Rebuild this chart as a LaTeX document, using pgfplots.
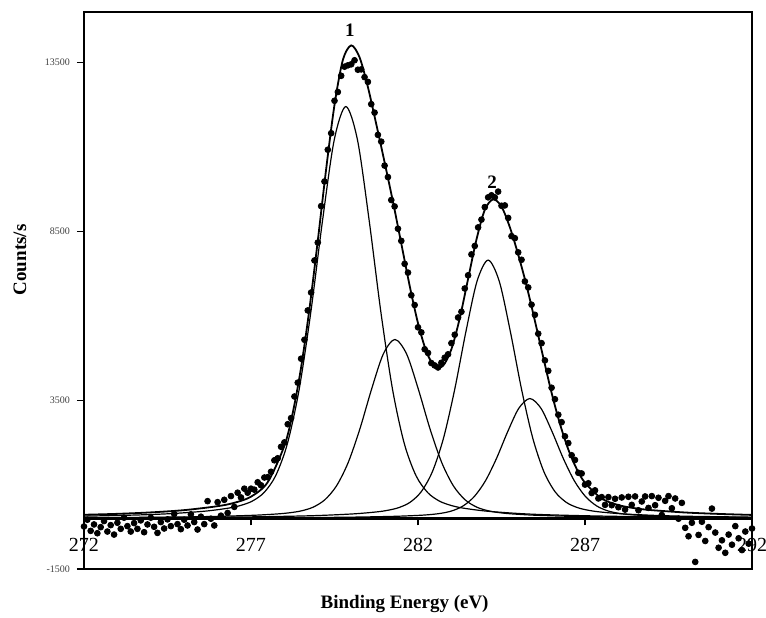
\documentclass[border=0pt]{standalone}
\usepackage{fontspec}
\setmainfont{Liberation Serif}
\usepackage{pgfplots}
\pgfplotsset{compat=1.18}
\begin{document}
\begin{tikzpicture}
\path[use as bounding box] (-42pt,-24pt) rectangle (341pt,284.5pt);
\begin{axis}[
  at={(0pt,0pt)}, anchor=south west,
  scale only axis, width=334pt, height=278.5pt,
  xmin=272, xmax=292, ymin=-1500, ymax=15000,
  axis x line=middle, axis y line=left,
  x axis line style={-, line width=1.6pt},
  y axis line style={-, line width=1pt},
  hide obscured x ticks=false, hide obscured y ticks=false,
  xtick={272,277,282,287,292},
  ytick={-1500,3500,8500,13500},
  xtick align=outside, ytick align=outside,
  major tick length=3.5pt,
  tick style={black, line width=0.6pt},
  /pgf/number format/assume math mode=true,
  /pgf/number format/1000 sep={},
  scaled y ticks=false,
  xticklabel style={font=\fontsize{10}{12}\selectfont, yshift=-3pt},
  yticklabel style={font=\fontsize{5}{6}\selectfont, text=black!75},
  xlabel={\textbf{Binding Energy (eV)}},
  ylabel={\textbf{Counts/s}},
  xlabel style={at={(axis description cs:0.48,-0.063)}, anchor=center, font=\fontsize{9.5}{11}\selectfont},
  ylabel style={at={(axis description cs:-0.096,0.555)}, anchor=center, font=\fontsize{9.5}{11}\selectfont},
  clip=false,
]
% measured counts
\addplot[only marks, mark=*, mark size=1.45pt, black] coordinates {
(272.0,-240)(272.1,-40)(272.2,-370)(272.3,-180)(272.4,-440)(272.5,-260)(272.6,-80)(272.7,-390)(272.8,-200)(272.9,-480)
(273.0,-130)(273.1,-310)(273.2,20)(273.3,-230)(273.4,-390)(273.5,-140)(273.6,-310)(273.7,-60)(273.8,-410)(273.9,-180)
(274.0,20)(274.1,-250)(274.2,-430)(274.3,-110)(274.4,-300)(274.5,-30)(274.6,-230)(274.7,130)(274.8,-170)(274.9,-320)
(275.0,-40)(275.1,-210)(275.2,120)(275.3,-110)(275.4,-330)(275.5,50)(275.6,-170)(275.7,510)(275.8,-10)(275.9,-210)
(276.0,480)(276.1,80)(276.2,550)(276.3,160)(276.4,660)(276.5,340)(276.6,760)(276.7,620)(276.8,880)(276.9,760)
(277.0,880)(277.1,850)(277.2,1070)(277.3,980)(277.4,1210)(277.5,1220)(277.6,1380)(277.7,1720)(277.8,1780)(277.9,2120)
(278.0,2250)(278.1,2790)(278.2,2970)(278.3,3610)(278.4,4020)(278.5,4730)(278.6,5290)(278.7,6160)(278.8,6690)(278.9,7640)
(279.0,8170)(279.1,9250)(279.2,9980)(279.3,10920)(279.4,11410)(279.5,12370)(279.6,12630)(279.7,13110)(279.8,13380)(279.9,13420)
(280.0,13450)(280.1,13570)(280.2,13290)(280.3,13300)(280.4,13070)(280.5,12930)(280.6,12270)(280.7,12020)(280.8,11360)(280.9,11160)
(281.0,10450)(281.1,10110)(281.2,9430)(281.3,9240)(281.4,8580)(281.5,8220)(281.6,7540)(281.7,7280)(281.8,6610)(281.9,6320)
(282.0,5660)(282.1,5510)(282.2,5010)(282.3,4900)(282.4,4600)(282.5,4530)(282.6,4470)(282.7,4610)(282.8,4760)(282.9,4860)
(283.0,5190)(283.1,5440)(283.2,5950)(283.3,6120)(283.4,6810)(283.5,7200)(283.6,7820)(283.7,8070)(283.8,8620)(283.9,8850)
(284.0,9220)(284.1,9510)(284.2,9570)(284.3,9510)(284.4,9680)(284.5,9260)(284.6,9270)(284.7,8900)(284.8,8360)(284.9,8300)
(285.0,7880)(285.1,7660)(285.2,7020)(285.3,6840)(285.4,6330)(285.5,6030)(285.6,5470)(285.7,5190)(285.8,4680)(285.9,4370)
(286.0,3870)(286.1,3530)(286.2,3070)(286.3,2850)(286.4,2430)(286.5,2230)(286.6,1870)(286.7,1730)(286.8,1350)(286.9,1330)
(287.0,1000)(287.1,1040)(287.2,750)(287.3,830)(287.4,590)(287.5,630)(287.6,400)(287.7,630)(287.8,390)(287.9,580)
(288.0,330)(288.1,620)(288.2,260)(288.3,640)(288.4,400)(288.5,650)(288.6,240)(288.7,500)(288.8,650)(288.9,310)
(289.0,660)(289.1,390)(289.2,610)(289.3,100)(289.4,520)(289.5,660)(289.6,300)(289.7,590)(289.8,-10)(289.9,460)
(290.0,-280)(290.1,-530)(290.2,-130)(290.3,-1290)(290.4,-490)(290.5,-100)(290.6,-670)(290.7,-260)(290.8,290)(290.9,-420)
(291.0,-870)(291.1,-650)(291.2,-1020)(291.3,-480)(291.4,-780)(291.5,-230)(291.6,-590)(291.7,-940)(291.8,-390)(291.9,-750)
(292.0,-300)
};
% component 1 (main)
\addplot[black, line width=0.6pt, smooth] coordinates {
(272,65)(273.54,99)(274.59,140)(275.64,215)(276.34,306)(276.69,383)(277.04,512)(277.39,764)(277.74,1266)(278.09,2214)(278.44,3808)(278.79,6100)(279.14,8810)(279.49,11201)(279.84,12200)(280.19,11201)(280.54,8810)(280.89,6100)(281.24,3808)(281.59,2214)(281.94,1266)(282.29,764)(282.64,512)(282.99,383)(283.34,306)(284.04,215)(285.09,140)(286.14,99)(288.24,56)(292,27)
};
% component 1 (shoulder)
\addplot[black, line width=0.6pt, smooth] coordinates {
(272,20)(272.91,24)(275.01,43)(276.06,61)(277.11,93)(277.81,133)(278.16,166)(278.51,223)(278.86,332)(279.21,550)(279.56,962)(279.91,1654)(280.26,2650)(280.61,3827)(280.96,4866)(281.31,5300)(281.66,4866)(282.01,3827)(282.36,2650)(282.71,1654)(283.06,962)(283.41,550)(283.76,332)(284.11,223)(284.46,166)(284.81,133)(285.51,93)(286.56,61)(287.61,43)(289.71,24)(292,15)
};
% component 2 (main)
\addplot[black, line width=0.6pt, smooth] coordinates {
(272,16)(276.1,35)(278.1,62)(279.1,88)(280.1,135)(280.767,192)(281.1,240)(281.433,321)(281.767,479)(282.1,794)(282.433,1388)(282.767,2388)(283.1,3825)(283.433,5524)(283.767,7023)(284.1,7650)(284.433,7023)(284.767,5524)(285.1,3825)(285.433,2388)(285.767,1388)(286.1,794)(286.433,479)(286.767,321)(287.1,240)(287.433,192)(288.1,135)(289.1,88)(290.1,62)(292,36)
};
% component 2 (shoulder)
\addplot[black, line width=0.6pt, smooth] coordinates {
(272,6)(277.35,16)(279.35,29)(280.35,41)(281.35,62)(282.017,89)(282.35,111)(282.683,149)(283.017,222)(283.35,368)(283.683,644)(284.017,1108)(284.35,1775)(284.683,2563)(285.017,3259)(285.35,3550)(285.683,3259)(286.017,2563)(286.35,1775)(286.683,1108)(287.017,644)(287.35,368)(287.683,222)(288.017,149)(288.35,111)(288.683,89)(289.35,62)(290.35,41)(291.35,29)(292,24)
};
% envelope
\addplot[black, line width=0.9pt, smooth] coordinates {
(272,107)(273,134)(274,177)(275,244)(276,361)(276.5,461)(277,643)(277.5,1070)(278,2152)(278.25,3124)(278.5,4472)(278.75,6207)(279,8225)(279.25,10346)(279.5,12250)(279.75,13576)(280,14011)(280.25,13658)(280.5,12778)(280.75,11680)(281,10548)(281.25,9381)(281.5,8139)(281.75,6893)(282,5782)(282.25,4943)(282.5,4497)(282.75,4521)(283,5011)(283.25,5927)(283.5,7096)(283.75,8258)(284,9140)(284.25,9451)(284.5,9235)(284.75,8625)(285,7815)(285.25,6894)(285.5,5850)(285.75,4771)(286,3718)(286.25,2799)(286.5,2043)(286.75,1467)(287,1056)(287.5,588)(288,393)(288.5,299)(289,243)(290,174)(291,132)(292,102)
};
\draw[line width=1pt] (rel axis cs:0,0) rectangle (rel axis cs:1,1);
\node[font=\bfseries\fontsize{9.5}{11}\selectfont] at (axis cs:279.96,14450) {1};
\node[font=\bfseries\fontsize{9.5}{11}\selectfont] at (axis cs:284.22,9950) {2};
\end{axis}
\end{tikzpicture}
\end{document}
